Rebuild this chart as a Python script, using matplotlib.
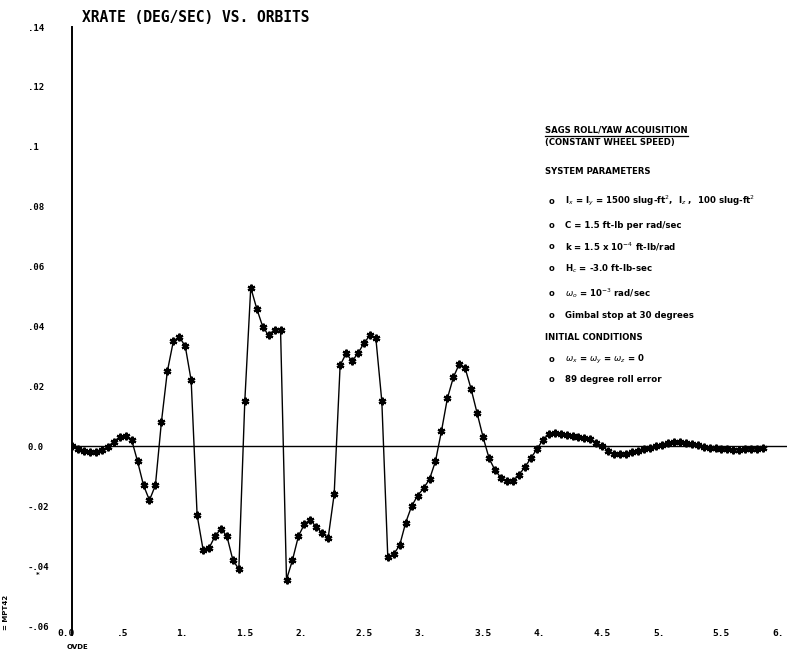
import numpy as np
import matplotlib
matplotlib.use("Agg")
import matplotlib.pyplot as plt
from matplotlib.transforms import blended_transform_factory

# X-axis body rate (deg/sec) sampled every 0.05 orbit
orbits = np.round(np.arange(0, 5.80001, 0.05), 2)
xrate = [
    0.0000, -0.0008, -0.0016, -0.0020, -0.0019, -0.0013, -0.0002, 0.0015,
    0.0030, 0.0035, 0.0022, -0.0050, -0.0130, -0.0180, -0.0130, 0.0080,
    0.0250, 0.0350, 0.0365, 0.0335, 0.0220, -0.0230, -0.0345, -0.0340,
    -0.0300, -0.0275, -0.0300, -0.0380, -0.0410, 0.0150, 0.0530, 0.0460,
    0.0400, 0.0370, 0.0390, 0.0390, -0.0445, -0.0380, -0.0300, -0.0260,
    -0.0245, -0.0270, -0.0290, -0.0305, -0.0160, 0.0270, 0.0310, 0.0285,
    0.0310, 0.0345, 0.0370, 0.0360, 0.0150, -0.0370, -0.0360, -0.0330,
    -0.0255, -0.0200, -0.0165, -0.0140, -0.0110, -0.0050, 0.0050, 0.0160,
    0.0230, 0.0275, 0.0260, 0.0190, 0.0110, 0.0030, -0.0040, -0.0080,
    -0.0105, -0.0117, -0.0115, -0.0095, -0.0070, -0.0040, -0.0010, 0.0020,
    0.0042, 0.0045, 0.0042, 0.0038, 0.0035, 0.0032, 0.0028, 0.0023,
    0.0012, 0.0000, -0.0015, -0.0025, -0.0027, -0.0025, -0.0020, -0.0014,
    -0.0009, -0.0004, 0.0001, 0.0006, 0.0010, 0.0013, 0.0013, 0.0011,
    0.0007, 0.0003, -0.0001, -0.0004, -0.0007, -0.0009, -0.0010, -0.0011,
    -0.0011, -0.0010, -0.0009, -0.0008, -0.0007,
]

xticks = [0.0, 0.5, 1.0, 1.5, 2.0, 2.5, 3.0, 3.5, 4.0, 4.5, 5.0, 5.5, 6.0]
xticklabels = ["0.0", ".5", "1.", "1.5", "2.", "2.5", "3.", "3.5", "4.",
               "4.5", "5.", "5.5", "6."]
yticks = [0.14, 0.12, 0.10, 0.08, 0.06, 0.04, 0.02, 0.0, -0.02, -0.04, -0.06]
yticklabels = [".14", ".12", ".1", ".08", ".06", ".04", ".02", "0.0",
               "-.02", "-.04", "-.06"]

title = "XRATE (DEG/SEC) VS. ORBITS"
notes = [
    ("", "SAGS ROLL/YAW ACQUISITION", 130),
    ("", "(CONSTANT WHEEL SPEED)", 143),
    ("", "SYSTEM PARAMETERS", 172),
    ("o", r"I$_x$ = I$_y$ = 1500 slug-ft$^2$,  I$_z$ ,  100 slug-ft$^2$", 201),
    ("o", "C = 1.5 ft-lb per rad/sec", 225),
    ("o", r"k = 1.5 x 10$^{-4}$ ft-lb/rad", 247),
    ("o", r"H$_c$ = -3.0 ft-lb-sec", 269),
    ("o", r"$\omega_o$ = 10$^{-3}$ rad/sec", 293),
    ("o", "Gimbal stop at 30 degrees", 316),
    ("", "INITIAL CONDITIONS", 337),
    ("o", r"$\omega_x$ = $\omega_y$ = $\omega_z$ = 0", 359),
    ("o", "89 degree roll error", 380),
]

W, H = 787, 652
fig = plt.figure(figsize=(W / 100, H / 100), dpi=100)
ax = fig.add_axes([72 / W, (H - 635) / H, 1 - 72 / W, (635 - 27) / H])
ax.set_xlim(0, 6)
ax.set_ylim(-0.063, 0.14)

for s in ["top", "right", "bottom"]:
    ax.spines[s].set_visible(False)
ax.spines["left"].set_linewidth(1.4)
ax.axhline(0, color="black", lw=1.0, zorder=1)

ax.plot(orbits, xrate, color="black", lw=1.0, marker=(6, 2, 0), ms=5.5,
        mew=1.6, mec="black", zorder=3)

mono = dict(family="DejaVu Sans Mono", weight="bold", color="black")

ax.set_xticks([])
ax.set_yticks(yticks)
ax.set_yticklabels(yticklabels, fontsize=6.5, ha="left", **mono)
ax.tick_params(axis="y", length=0, pad=32)

trans = blended_transform_factory(ax.transData, ax.transAxes)
for xv, lab in zip(xticks, xticklabels):
    ax.text(xv - 0.125, 0.002, lab, transform=trans, fontsize=6.8,
            ha="left", va="center", clip_on=False, **mono)

fig.text(67 / W, 1 - 647 / H, "OVDE", fontsize=5, ha="left", va="center",
         family="DejaVu Sans", weight="bold")
fig.text(6 / W, 1 - 612 / H, "= MPT42", fontsize=5, rotation=90,
         ha="center", va="center", family="DejaVu Sans", weight="bold")
fig.text(38 / W, 1 - 575 / H, "*", fontsize=5, ha="center", va="center",
         family="DejaVu Sans", weight="bold")

fig.text(82 / W, 1 - 17 / H, title, fontsize=10.5, ha="left", va="center",
         **mono)

for bullet, text, ypx in notes:
    yf = 1 - ypx / H
    if bullet:
        fig.text(549 / W, yf, bullet, fontsize=6, ha="left", va="center",
                 family="DejaVu Sans", weight="bold")
        fig.text(565 / W, yf, text, fontsize=6.2, ha="left", va="center",
                 family="DejaVu Sans", weight="bold")
    else:
        fig.text(545 / W, yf, text, fontsize=6.1, ha="left", va="center",
                 family="DejaVu Sans", weight="bold")

# underline for the block heading
fig.add_artist(plt.Line2D([545 / W, 688 / W], [1 - 136 / H, 1 - 136 / H],
                          color="black", lw=0.9))

fig.savefig("out.png", dpi=100)
